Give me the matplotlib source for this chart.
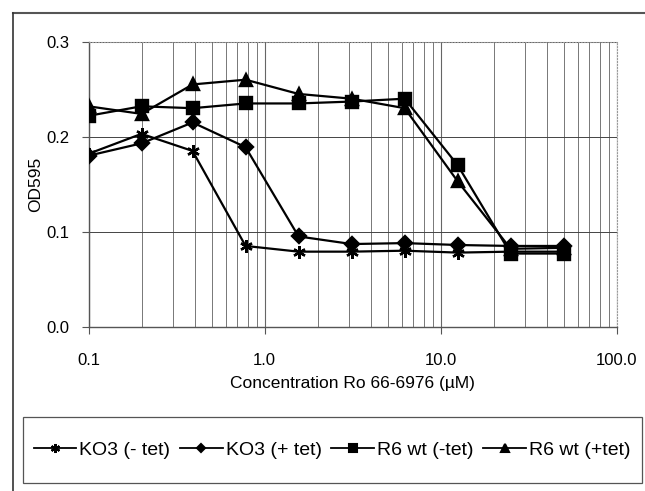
import matplotlib.pyplot as plt
from matplotlib.lines import Line2D
from matplotlib.patches import Rectangle
from matplotlib.ticker import FixedLocator, NullFormatter

# concentrations (uM), twofold dilution series
conc = [0.1, 0.2, 0.39, 0.78, 1.56, 3.125, 6.25, 12.5, 25, 50]

ko3_minus = [0.182, 0.203, 0.185, 0.085, 0.079, 0.079, 0.080, 0.078, 0.079, 0.079]
ko3_plus  = [0.180, 0.193, 0.215, 0.189, 0.095, 0.087, 0.088, 0.086, 0.085, 0.085]
r6_minus  = [0.222, 0.232, 0.230, 0.235, 0.235, 0.237, 0.240, 0.170, 0.077, 0.077]
r6_plus   = [0.232, 0.224, 0.255, 0.260, 0.245, 0.240, 0.230, 0.153, 0.082, 0.083]

labels = ["KO3 (- tet)", "KO3 (+ tet)", "R6 wt (-tet)", "R6 wt (+tet)"]
markers = [(6, 2, 0), "D", "s", "^"]
msizes = [9, 7, 8.5, 8.5]
series = [ko3_minus, ko3_plus, r6_minus, r6_plus]

plt.rcParams["font.family"] = ["Liberation Sans", "DejaVu Sans"]

W, H = 645, 491
fig = plt.figure(figsize=(W / 100, H / 100), dpi=100)
ax = fig.add_axes([88.5 / W, 1 - 326.7 / H, (616.7 - 88.5) / W, (326.7 - 41.7) / H])

handles = []
for ys, mk, ms, lab in zip(series, markers, msizes, labels):
    ax.plot(conc, ys, color="black", lw=1.6, marker=mk, ms=ms, mew=1.7, zorder=3)
    handles.append(Line2D([], [], color="black", lw=1.3, marker=mk, ms=ms - 2.5, mew=1.5))

ax.set_xscale("log")
ax.set_xlim(0.1, 100)
ax.set_ylim(0, 0.3)
ax.set_yticks([0.0, 0.1, 0.2, 0.3])
ax.set_yticklabels(["0.0", "0.1", "0.2", "0.3"])
ax.set_xticks([0.1, 1, 10, 100])
ax.set_xticklabels(["0.1", "1.0", "10.0", "100.0"])
minors = [m * d for d in (0.1, 1, 10) for m in range(2, 10)]
ax.xaxis.set_minor_locator(FixedLocator(minors))
ax.xaxis.set_minor_formatter(NullFormatter())

ax.grid(True, which="major", axis="x", color="#666666", lw=0.8)
ax.grid(True, which="minor", axis="x", color="#777777", lw=0.7)
ax.grid(True, which="major", axis="y", color="#444444", lw=0.7)

for s in ("top", "right"):
    ax.spines[s].set_color("#999999")
    ax.spines[s].set_linestyle(":")
for s in ("left", "bottom"):
    ax.spines[s].set_color("#555555")
    ax.spines[s].set_linewidth(1.0)

ax.tick_params(axis="y", which="major", length=5, direction="out", labelsize=12, pad=9, color="#555555")
ax.tick_params(axis="x", which="major", length=5, direction="out", labelsize=12, pad=14, color="#555555")
ax.tick_params(axis="x", which="minor", length=0)
ax.set_xlabel("Concentration Ro 66-6976 (\u00b5M)", fontsize=12.5, labelpad=6)
ax.set_ylabel("OD595", fontsize=12.5, labelpad=2)

# outer chart frame (top and left edges visible)
fig.add_artist(Line2D([12.7 / W, 1.0], [1 - 13.3 / H, 1 - 13.3 / H], color="#555555", lw=1.5))
fig.add_artist(Line2D([12.7 / W, 12.7 / W], [1 - 13.3 / H, 0], color="#333333", lw=1.2))

# legend box drawn separately so its size matches the reference
fig.add_artist(Rectangle((22.7 / W, 1 - 483 / H), (642 - 22.7) / W, (483 - 417) / H,
                         transform=fig.transFigure, fill=False, edgecolor="#555555", lw=0.9))
fig.legend(handles, labels, loc="center", bbox_to_anchor=(332 / W, 1 - 450 / H),
           ncol=4, frameon=False, fontsize=14, handlelength=2.2, handletextpad=0.15,
           columnspacing=0.5, borderpad=0.3)

fig.savefig("out.png", dpi=100)
